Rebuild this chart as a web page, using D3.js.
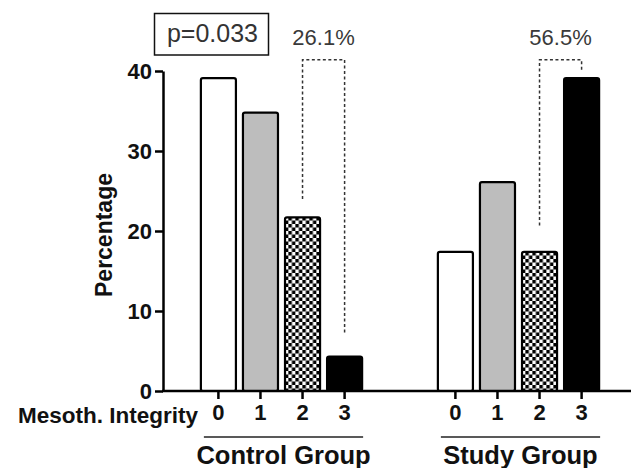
<!DOCTYPE html>
<html>
<head>
<meta charset="utf-8">
<script src="https://cdn.jsdelivr.net/npm/d3@7"></script>
<style>
  body { margin: 0; background: #fff; }
  text { font-family: "Liberation Sans", Arial, sans-serif; }
</style>
</head>
<body>
<div id="chart"></div>
<script>
// data
var groups = ["Control Group", "Study Group"];
var levels = ["0", "1", "2", "3"];
var controlValues = [39.1, 34.8, 21.7, 4.3];
var studyValues = [17.4, 26.1, 17.4, 39.1];
var yTicks = [0, 10, 20, 30, 40];
var bracketLabels = ["26.1%", "56.5%"];
var bracketLeftEnd = [24, 20.7];
var bracketRightEnd = [7.2, 40];
var bracketTop = 41.4;
var pLabel = "p=0.033";

var width = 631, height = 468;
var svg = d3.select("#chart").append("svg").attr("width", width).attr("height", height);

var defs = svg.append("defs");
var pat = defs.append("pattern").attr("id", "checker").attr("patternUnits", "userSpaceOnUse")
  .attr("width", 7).attr("height", 7);
pat.append("rect").attr("width", 7).attr("height", 7).attr("fill", "#fff");
pat.append("rect").attr("width", 3.5).attr("height", 3.5).attr("fill", "#000");
pat.append("rect").attr("x", 3.5).attr("y", 3.5).attr("width", 3.5).attr("height", 3.5).attr("fill", "#000");

var fills = ["#fff", "#bdbdbd", "url(#checker)", "#000"];

var y = d3.scaleLinear().domain([0, 40]).range([391, 71]);
var xGroup = d3.scaleBand().domain(groups).range([163, 637]).paddingInner(0.29).paddingOuter(0.145);
var xLevel = d3.scaleBand().domain(levels).range([0, xGroup.bandwidth()]).paddingInner(0.167).paddingOuter(0.0835);

var data = [controlValues, studyValues];

// bars
groups.forEach(function(g, gi) {
  var gx = xGroup(g);
  var gSel = svg.append("g").attr("transform", "translate(" + gx + ",0)");
  gSel.selectAll("rect.bar").data(data[gi]).enter().append("rect")
    .attr("class", "bar")
    .attr("x", function(d, i) { return xLevel(levels[i]); })
    .attr("y", function(d) { return y(d); })
    .attr("width", xLevel.bandwidth())
    .attr("height", function(d) { return y(0) - y(d); })
    .attr("rx", 2)
    .attr("fill", function(d, i) { return fills[i]; })
    .attr("stroke", "#000").attr("stroke-width", 2.2);

  // level ticks
  var ax = d3.axisBottom(xLevel).tickSize(8).tickSizeOuter(0).tickPadding(5);
  var axG = gSel.append("g").attr("transform", "translate(0," + y(0) + ")").call(ax);
  axG.select(".domain").remove();
  axG.selectAll(".tick line").attr("stroke", "#000").attr("stroke-width", 2.5);
  axG.selectAll(".tick text").attr("font-size", 22).attr("font-weight", "bold")
    .attr("font-family", "Liberation Sans, Arial, sans-serif").attr("fill", "#111");

  // group underline + label
  var x0 = xLevel(levels[0]) + 3, x1 = xLevel(levels[3]) + xLevel.bandwidth() + 1;
  gSel.append("line").attr("x1", x0).attr("x2", x1).attr("y1", 437).attr("y2", 437)
    .attr("stroke", "#222").attr("stroke-width", 1.5);
  gSel.append("text").attr("x", (x0 + x1) / 2).attr("y", 464).attr("text-anchor", "middle")
    .attr("font-size", 25.5).attr("font-weight", "bold").attr("fill", "#111").text(g);

  // dashed bracket
  var lx = xLevel(levels[2]) + xLevel.bandwidth() / 2;
  var rx = xLevel(levels[3]) + xLevel.bandwidth() / 2;
  var pts = [[lx, y(bracketLeftEnd[gi])], [lx, y(bracketTop)], [rx, y(bracketTop)], [rx, y(bracketRightEnd[gi])]];
  gSel.append("path").attr("d", d3.line()(pts)).attr("fill", "none")
    .attr("stroke", "#333").attr("stroke-width", 1.5).attr("stroke-dasharray", "3,2.5");
  gSel.append("text").attr("x", (lx + rx) / 2).attr("y", 45).attr("text-anchor", "middle")
    .attr("font-size", 22).attr("fill", "#3a3a3a").text(bracketLabels[gi]);
});

// x baseline
svg.append("line").attr("x1", 162).attr("x2", width).attr("y1", y(0)).attr("y2", y(0))
  .attr("stroke", "#000").attr("stroke-width", 2.5);

// y axis
var yAxis = d3.axisLeft(y).tickValues(yTicks).tickSize(8).tickSizeOuter(0).tickPadding(3);
var yG = svg.append("g").attr("transform", "translate(163,0)").call(yAxis);
yG.select(".domain").attr("stroke", "#000").attr("stroke-width", 2.5);
yG.selectAll(".tick line").attr("stroke", "#000").attr("stroke-width", 2.5);
yG.selectAll(".tick text").attr("font-size", 22).attr("font-weight", "bold")
  .attr("font-family", "Liberation Sans, Arial, sans-serif").attr("fill", "#111");

svg.append("text").attr("transform", "translate(112,235) rotate(-90)").attr("text-anchor", "middle")
  .attr("font-size", 23).attr("font-weight", "bold").attr("fill", "#111").text("Percentage");

svg.append("text").attr("x", 198).attr("y", 423).attr("text-anchor", "end")
  .attr("font-size", 22.5).attr("font-weight", "bold").attr("fill", "#111").text("Mesoth. Integrity");

// p-value box
svg.append("rect").attr("x", 154.5).attr("y", 13.5).attr("width", 114).attr("height", 41.5)
  .attr("fill", "#fff").attr("stroke", "#111").attr("stroke-width", 1.5);
svg.append("text").attr("x", 212.5).attr("y", 42).attr("text-anchor", "middle")
  .attr("font-size", 25).attr("fill", "#333").text(pLabel);
</script>
</body>
</html>
